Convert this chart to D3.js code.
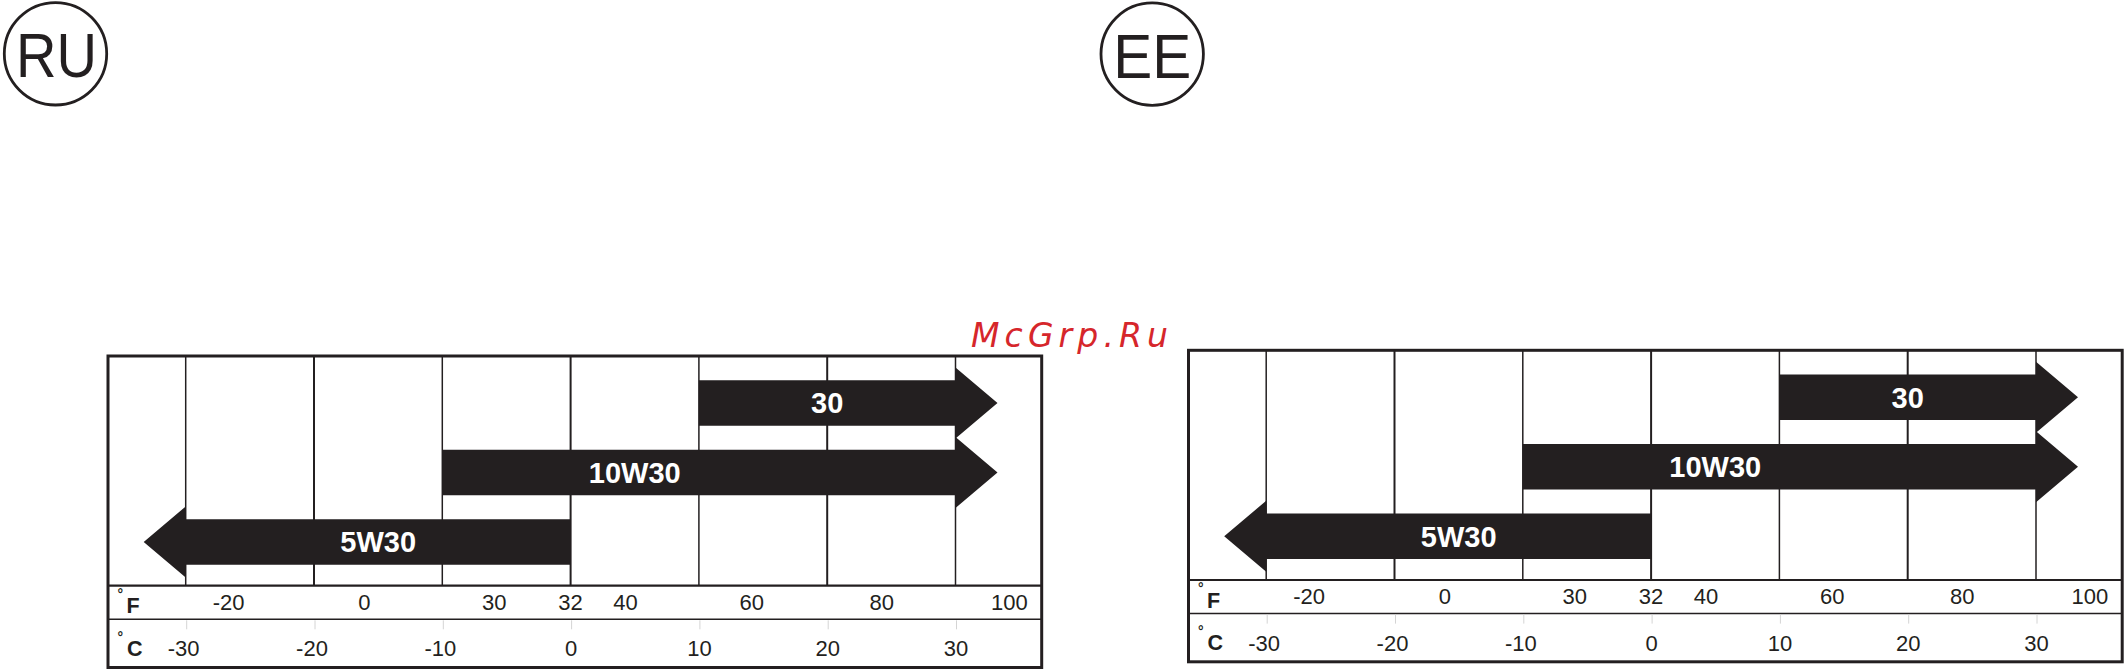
<!DOCTYPE html>
<html>
<head>
<meta charset="utf-8">
<script src="https://cdn.jsdelivr.net/npm/d3@7"></script>
<style>
  html, body { margin: 0; padding: 0; background: #ffffff; }
  svg { display: block; }
</style>
</head>
<body>
<script>
// ---------------- data ----------------
const regions = ["RU", "EE"];
const grades = ["30", "10W30", "5W30"];
const gradeFrom = [10, -10, -30];        // °C, lower end of recommended range
const gradeTo = [30, 30, 0];             // °C, upper end
const openBelow = [false, false, true];  // arrow continues to colder temperatures
const openAbove = [true, true, false];   // arrow continues to warmer temperatures
const gradeLabelAt = [20, 5, -15];       // °C where the grade name sits
const celsiusTicks = [-30, -20, -10, 0, 10, 20, 30];
const fahrenheitLabels = ["-20", "0", "30", "32", "40", "60", "80", "100"];
const fahrenheitAt = [-26.65, -16.08, -5.95, 0, 4.27, 14.12, 24.25, 34.2]; // °C position of each °F label
const watermark = "McGrp.Ru";

// ---------------- layout ----------------
const W = 2126, H = 670;
const INK = "#231f20";
const FONT = "'Liberation Sans', Arial, Helvetica, sans-serif";
const panelW = 933.7, plotH = 229.7, fRowH = 33.6, cRowH = 48.2;
const boxH = plotH + fRowH + cRowH;
const panelPos = [{ x: 108, y: 356, bx: 55.5, by: 53.8 }, { x: 1188.5, y: 350.3, bx: 1152.2, by: 54.1 }];

const svg = d3.select("body").append("svg").attr("width", W).attr("height", H);

const x = d3.scaleLinear().domain([-30, 30]).range([77.7, 847.5]);
const y = d3.scalePoint().domain(grades).range([46.9, 185.95]);

const bodyHalf = 22.75, headHalf = 35.5, headLen = 42;

function arrowPath(i) {
  const x0 = x(gradeFrom[i]), x1 = x(gradeTo[i]), yc = y(grades[i]);
  const pts = [];
  // top edge left -> right
  if (openBelow[i]) {
    pts.push([x0, yc - bodyHalf]);
  } else {
    pts.push([x0, yc - bodyHalf]);
  }
  if (openAbove[i]) {
    pts.push([x1, yc - bodyHalf], [x1, yc - headHalf], [x1 + headLen, yc], [x1, yc + headHalf], [x1, yc + bodyHalf]);
  } else {
    pts.push([x1, yc - bodyHalf], [x1, yc + bodyHalf]);
  }
  if (openBelow[i]) {
    pts.push([x0, yc + bodyHalf], [x0, yc + headHalf], [x0 - headLen, yc], [x0, yc - headHalf]);
  } else {
    pts.push([x0, yc + bodyHalf]);
  }
  return d3.line()(pts) + "Z";
}

regions.forEach((region, p) => {
  const pos = panelPos[p];

  // badge
  const badge = svg.append("g");
  badge.append("circle")
    .attr("cx", pos.bx).attr("cy", pos.by).attr("r", 51.2)
    .attr("fill", "none").attr("stroke", INK).attr("stroke-width", 2.8);
  badge.append("text")
    .attr("x", pos.bx + (p === 0 ? 1 : 0)).attr("y", pos.by + 23.6)
    .attr("text-anchor", "middle")
    .attr("font-family", FONT).attr("font-size", 63).attr("fill", INK)
    .attr("textLength", p === 0 ? 81 : 78).attr("lengthAdjust", "spacingAndGlyphs")
    .text(region);

  const g = svg.append("g").attr("transform", `translate(${pos.x},${pos.y})`);

  // vertical grid lines at °C ticks (plot area only)
  g.selectAll("line.grid").data(celsiusTicks).join("line")
    .attr("class", "grid")
    .attr("x1", d => x(d)).attr("x2", d => x(d))
    .attr("y1", 0).attr("y2", plotH)
    .attr("stroke", INK)
    .attr("stroke-width", d => (d % 20 === 0 && d !== 0) || d === 0 ? 2 : 1.5);

  // arrows
  g.selectAll("path.arrow").data(grades).join("path")
    .attr("class", "arrow")
    .attr("d", (d, i) => arrowPath(i))
    .attr("fill", INK);

  g.selectAll("text.grade").data(grades).join("text")
    .attr("class", "grade")
    .attr("x", (d, i) => x(gradeLabelAt[i]))
    .attr("y", d => y(d) + 10.4)
    .attr("text-anchor", "middle")
    .attr("font-family", FONT).attr("font-weight", "bold").attr("font-size", 29)
    .attr("fill", "#ffffff")
    .text(d => d);

  // row separators
  g.append("line").attr("x1", 0).attr("x2", panelW).attr("y1", plotH).attr("y2", plotH)
    .attr("stroke", INK).attr("stroke-width", 2.2);
  g.append("line").attr("x1", 0).attr("x2", panelW).attr("y1", plotH + fRowH).attr("y2", plotH + fRowH)
    .attr("stroke", INK).attr("stroke-width", 1.5);

  // small grey ticks in the °C row
  g.selectAll("line.ctick").data(celsiusTicks).join("line")
    .attr("class", "ctick")
    .attr("x1", d => x(d) + 1).attr("x2", d => x(d) + 1)
    .attr("y1", plotH + fRowH + 1).attr("y2", plotH + fRowH + 10)
    .attr("stroke", "#d4d4d4").attr("stroke-width", 1);

  // °F row
  g.append("text").attr("x", 9.5).attr("y", 243)
    .attr("font-family", FONT).attr("font-weight", "bold").attr("font-size", 14).attr("fill", INK).text("°");
  g.append("text").attr("x", 18.5).attr("y", 257.3)
    .attr("font-family", FONT).attr("font-weight", "bold").attr("font-size", 21.5).attr("fill", INK).text("F");
  g.selectAll("text.ftick").data(fahrenheitLabels).join("text")
    .attr("class", "ftick")
    .attr("x", (d, i) => x(fahrenheitAt[i]))
    .attr("y", plotH + 24.3)
    .attr("text-anchor", "middle")
    .attr("font-family", FONT).attr("font-size", 22).attr("fill", INK)
    .text(d => d);

  // °C row
  g.append("text").attr("x", 9.5).attr("y", 286)
    .attr("font-family", FONT).attr("font-weight", "bold").attr("font-size", 14).attr("fill", INK).text("°");
  g.append("text").attr("x", 19).attr("y", 300)
    .attr("font-family", FONT).attr("font-weight", "bold").attr("font-size", 21.5).attr("fill", INK).text("C");
  g.selectAll("text.ctext").data(celsiusTicks).join("text")
    .attr("class", "ctext")
    .attr("x", d => x(d) - (d < 0 ? 2 : -0.5))
    .attr("y", plotH + fRowH + 37)
    .attr("text-anchor", "middle")
    .attr("font-family", FONT).attr("font-size", 22).attr("fill", INK)
    .text(d => d);

  // outer box
  g.append("rect").attr("x", 0).attr("y", 0).attr("width", panelW).attr("height", boxH)
    .attr("fill", "none").attr("stroke", INK).attr("stroke-width", 3);
});

// watermark
svg.append("text")
  .attr("x", 971).attr("y", 346.7)
  .attr("font-family", "'DejaVu Sans', sans-serif").attr("font-style", "italic")
  .attr("font-size", 33).attr("fill", "#d6262b")
  .attr("textLength", 197).attr("lengthAdjust", "spacing")
  .text(watermark);
</script>
</body>
</html>
